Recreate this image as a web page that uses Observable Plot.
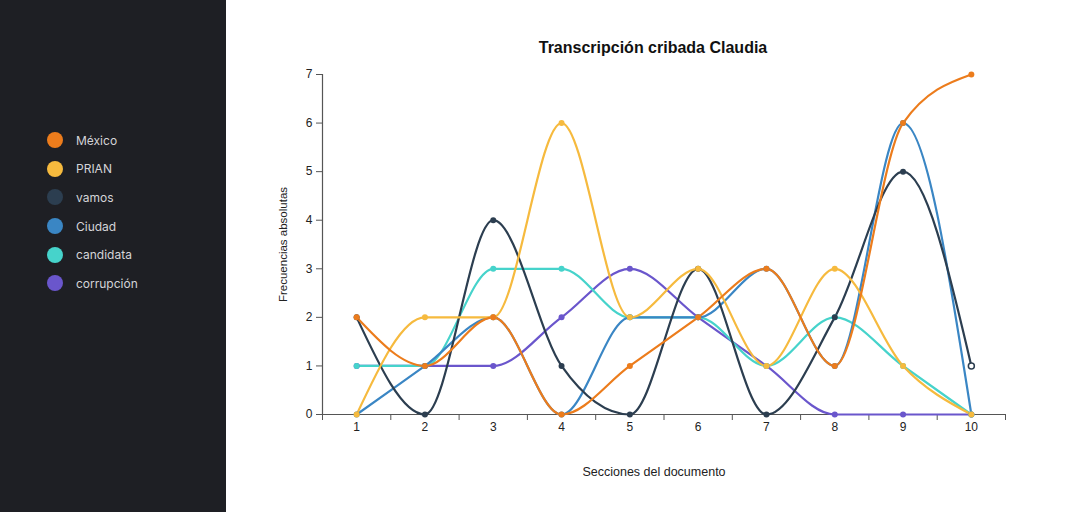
<!DOCTYPE html>
<html><head><meta charset="utf-8">
<script src="https://cdn.jsdelivr.net/npm/d3@7"></script>
<script src="https://cdn.jsdelivr.net/npm/@observablehq/plot@0.6"></script>
<style>
html,body{margin:0;padding:0;background:#fff;}
body{width:1080px;height:512px;overflow:hidden;position:relative;font-family:"Liberation Sans",Arial,sans-serif;}
#side{position:absolute;left:0;top:0;width:226px;height:512px;background:#1e1f24;}
#legend{position:absolute;left:47px;top:126px;}
.item{display:flex;align-items:center;height:28.6px;}
.sw{width:16px;height:16px;border-radius:50%;margin-right:13px;}
.lab{color:#d4d4d8;font-family:Inter,"Noto Sans",sans-serif;font-size:12px;}
#main{position:absolute;left:226px;top:0;width:854px;}
#title{box-sizing:border-box;height:60px;padding-top:38px;line-height:20px;text-align:center;font-weight:bold;font-size:16px;color:#111;}
</style></head>
<body>
<div id="side"><div id="legend"></div></div>
<div id="main"><div id="title">Transcripción cribada Claudia</div><div id="chart"></div></div>
<script>
const sections = [1, 2, 3, 4, 5, 6, 7, 8, 9, 10];
const seriesNames = ["México", "PRIAN", "vamos", "Ciudad", "candidata", "corrupción"];
const colors = ["#ec7c1c", "#f6ba3e", "#2c3e50", "#3a86c4", "#46d3cb", "#6a56cc"];
const mexico     = [2, 1, 2, 0, 1, 2, 3, 1, 6, 7];
const prian      = [0, 2, 2, 6, 2, 3, 1, 3, 1, 0];
const vamos      = [2, 0, 4, 1, 0, 3, 0, 2, 5, 1];
const ciudad     = [0, 1, 2, 0, 2, 2, 3, 1, 6, 0];
const candidata  = [1, 1, 3, 3, 2, 2, 1, 2, 1, 0];
const corrupcion = [1, 1, 1, 2, 3, 2, 1, 0, 0, 0];
const yTicks = [0, 1, 2, 3, 4, 5, 6, 7];
const title = "Transcripción cribada Claudia";
const xLabel = "Secciones del documento";
const yLabel = "Frecuencias absolutas";

const values = [mexico, prian, vamos, ciudad, candidata, corrupcion];
// draw last series first so México ends on top
const rows = [];
for (let i = seriesNames.length - 1; i >= 0; i--) {
  sections.forEach((s, j) => rows.push({series: seriesNames[i], section: s, value: values[i][j]}));
}
const boundaries = sections.map(s => s - 0.5).concat([sections[sections.length - 1] + 0.5]);

// legend
const leg = d3.select("#legend");
seriesNames.forEach((n, i) => {
  const it = leg.append("div").attr("class", "item");
  it.append("div").attr("class", "sw").style("background", colors[i]);
  it.append("div").attr("class", "lab").text(n);
});
document.getElementById("title").textContent = title;

const axisColor = "#555";
const chart = Plot.plot({
  width: 854,
  height: 452,
  marginTop: 14,
  marginBottom: 98,
  marginLeft: 96,
  marginRight: 75,
  style: {fontFamily: "'Liberation Sans', Arial, sans-serif", fontSize: "12px", color: "#222", background: "transparent"},
  x: {domain: [sections[0] - 0.5, sections[sections.length - 1] + 0.5], label: null},
  y: {domain: [0, 7], label: null},
  color: {domain: seriesNames, range: colors},
  marks: [
    Plot.axisY({ticks: yTicks, tickFormat: d3.format("d"), tickSize: 6, tickPadding: 4, stroke: axisColor, label: null}),
    Plot.axisX({ticks: sections, tickFormat: d3.format("d"), tickSize: 0, tickPadding: 8, label: null}),
    Plot.axisX({ticks: boundaries, tickSize: 6, tickFormat: () => "", stroke: axisColor, label: null}),
    Plot.ruleY([0], {stroke: axisColor, strokeWidth: 1.2}),
    Plot.ruleX([sections[0] - 0.5], {stroke: axisColor, strokeWidth: 1.2}),
    Plot.text([xLabel], {frameAnchor: "bottom", dx: -10, dy: 57, lineAnchor: "middle", fontSize: 12.5, fill: "#222"}),
    Plot.text([yLabel], {frameAnchor: "left", dx: -39, rotate: -90, lineAnchor: "middle", textAnchor: "middle", fontSize: 11.5, fill: "#222"}),
    Plot.line(rows, {x: "section", y: "value", z: "series", stroke: "series", curve: "monotone-x", strokeWidth: 2.2}),
    Plot.dot(rows, {x: "section", y: "value", fill: "series", r: 3}),
    Plot.dot(rows.filter(d => d.series === "vamos" && d.section === sections[sections.length - 1]),
      {x: "section", y: "value", fill: "white", stroke: "series", strokeWidth: 1.5, r: 3})
  ]
});
document.getElementById("chart").appendChild(chart);
</script>
</body></html>
